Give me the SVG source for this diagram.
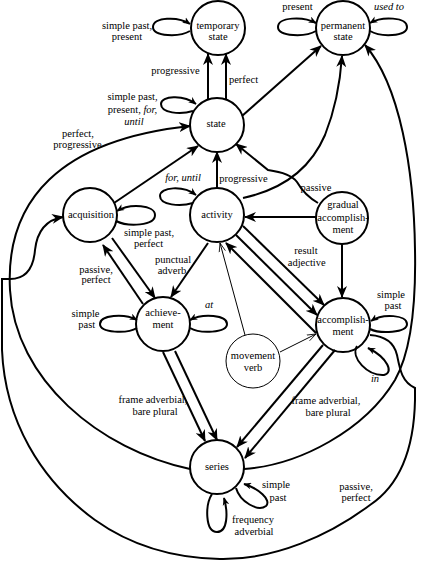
<svg xmlns="http://www.w3.org/2000/svg" width="448" height="561" viewBox="0 0 448 561">
<style>
.n{fill:#fff;stroke:#000;stroke-width:2}
.thin{fill:#fff;stroke:#000;stroke-width:1}
.e{fill:none;stroke:#000;stroke-width:2}
.et{fill:none;stroke:#000;stroke-width:1}
.ar{marker-end:url(#a)}
.sa{marker-end:url(#s)}
.ta{marker-end:url(#t)}
text{font-family:"Liberation Serif","Times New Roman",serif;font-size:10.5px;fill:#000;text-anchor:middle}
.i{font-style:italic}
</style>
<defs>
<marker id="a" viewBox="0 0 12 10" refX="11" refY="5" markerWidth="12" markerHeight="10" markerUnits="userSpaceOnUse" orient="auto"><path d="M0,0 L12,5 L0,10 L3.5,5 z"/></marker>
<marker id="s" viewBox="0 0 12 10" refX="11" refY="5" markerWidth="8" markerHeight="7" markerUnits="userSpaceOnUse" orient="auto"><path d="M0,0 L12,5 L0,10 L3.5,5 z"/></marker>
<marker id="t" viewBox="0 0 12 10" refX="11" refY="5" markerWidth="10" markerHeight="8" markerUnits="userSpaceOnUse" orient="auto"><path d="M0,1 L11,5 L0,9" fill="none" stroke="#000" stroke-width="1"/></marker>
</defs>

<g id="temporary-state"><circle class="n" cx="218" cy="28" r="27"/><text x="218" y="28.5">temporary</text><text x="218" y="40">state</text></g>
<g id="permanent-state"><circle class="n" cx="343" cy="28" r="27"/><text x="343" y="28.5">permanent</text><text x="343" y="40">state</text></g>
<g id="state"><circle class="n" cx="217" cy="125" r="27"/><text x="216" y="127">state</text></g>
<g id="acquisition"><circle class="n" cx="90" cy="215" r="27"/><text x="91" y="217.5">acquisition</text></g>
<g id="activity"><circle class="n" cx="217" cy="215" r="27"/><text x="217" y="217.5">activity</text></g>
<g id="gradual-accomplishment"><circle class="n" cx="342" cy="218" r="26"/><text x="343" y="207.5">gradual</text><text x="343" y="220.5">accomplish-</text><text x="343" y="232.5">ment</text></g>
<g id="achievement"><circle class="n" cx="163" cy="324" r="27"/><text x="163" y="315.5">achieve-</text><text x="163" y="327.5">ment</text></g>
<g id="accomplishment"><circle class="n" cx="343" cy="325" r="27"/><text x="343" y="322.5">accomplish-</text><text x="343" y="334.5">ment</text></g>
<g id="movement-verb"><circle class="thin" cx="253" cy="361" r="27"/><text x="253" y="358.5">movement</text><text x="253" y="370.5">verb</text></g>
<g id="series"><circle class="n" cx="217" cy="467" r="27"/><text x="217" y="469.5">series</text></g>

<g id="connectors">
<!-- self loops -->
<path class="e sa" d="M190,31 C180,37 153,37 153,27 C153,17 178,16 190,24"/>
<path class="e sa" d="M316,31 C306,37 278,37 278,27 C278,17 303,16 316,23"/>
<path class="e sa" d="M370,31 C380,37 407,37 407,27 C407,17 382,16 370,23"/>
<path class="e sa" d="M193,111 C180,115 161,113 161,104 C161,96 183,94 196,104"/>
<path class="e sa" d="M193,203 C180,207 160,205 160,196 C160,187 183,185 196,195"/>
<path class="e sa" d="M116,221 C128,227 155,226 155,215 C155,205 130,203 117,211"/>
<path class="e sa" d="M137,328 C127,334 100,333 100,324 C100,315 124,313 137,320"/>
<path class="e sa" d="M190,328 C200,334 227,333 227,324 C227,315 203,313 190,320"/>
<path class="e sa" d="M370,329 C380,334 407,333 407,324 C407,315 383,313 371,321"/>
<path class="e sa" d="M357,346 C350,358 368,376 384,375 C394,373 388,358 368,348"/>
<path class="e sa" d="M236,488 C240,502 258,512 266,506 C272,500 258,488 244,484"/>
<path class="e sa" d="M212,494 C205,505 205,532 217,532 C228,532 228,512 224,498"/>
<!-- straight edges -->
<path class="e ar" d="M208,100 L208,54"/>
<path class="e ar" d="M226,100 L226,54"/>
<path class="e ar" d="M242,116 L321,46"/>
<path class="e ar" d="M114,203 L198,146"/>
<path class="e ar" d="M217,188 L217,152"/>
<path class="e ar" d="M316,217 L245,217"/>
<path class="e ar" d="M342,244 L342,297"/>
<path class="e ar" d="M243,226 L324,305"/>
<path class="e ar" d="M236,235 L317,315"/>
<path class="e ar" d="M316,333 L226,243"/>
<path class="e ar" d="M112,238 L155,298"/>
<path class="e ar" d="M143,304 L103,245"/>
<path class="e ar" d="M208,243 L171,297"/>
<path class="e ar" d="M163,352 L205,441"/>
<path class="e ar" d="M175,351 L217,440"/>
<path class="e ar" d="M323,345 L237,447"/>
<path class="e ar" d="M335,350 L245,458"/>
<path class="et ta" d="M245,335 L220,243"/>
<path class="et ta" d="M280,352 L316,334"/>
<!-- long curves -->
<path class="e ar" d="M190,469 C100,450 15,380 10,290 C5,200 60,140 190,126"/>
<path class="e ar" d="M370,335 C385,336 394,342 397,355 C400,370 402,382 415,388 L415,400 C414,450 400,485 370,505 C330,535 275,560 220,559 C170,558 130,545 95,520 C40,480 5,420 2,350 L2,279 L10,279 C30,279 34,262 35,250 C37,232 45,220 63,217"/>
<path class="e ar" d="M244,469 C300,465 365,430 395,380 C412,350 416,300 415,250 C414,170 400,85 365,45"/>
<path class="e ar" d="M243,198 C280,190 310,170 325,135 C335,110 340,85 342,56"/>
<path class="e ar" d="M318,203 C306,196 301,189 297,182 C292,175 282,172 268,170 L236,144"/>
</g>

<g id="labels">
<text x="127" y="28.5">simple past,</text><text x="127" y="40">present</text>
<text x="175.5" y="74">progressive</text><text x="243.5" y="82.5">perfect</text>
<text x="297.5" y="10">present</text><text class="i" x="389" y="10">used to</text>
<text x="132.5" y="100">simple past,</text><text x="132.5" y="113">present, <tspan class="i">for,</tspan></text><text class="i" x="134" y="125">until</text>
<text x="78" y="136.5">perfect,</text><text x="77.5" y="147.5">progressive</text>
<text class="i" x="183" y="181">for, until</text>
<text x="243.5" y="181.5">progressive</text>
<text x="316" y="190.5">passive</text>
<text x="149" y="235.5">simple past,</text><text x="148.5" y="246.5">perfect</text>
<text x="96" y="272.5">passive,</text><text x="96" y="282.5">perfect</text>
<text x="173" y="262.5">punctual</text><text x="172" y="273.5">adverb</text>
<text x="306" y="253.5">result</text><text x="306.7" y="265.5">adjective</text>
<text x="85.5" y="316.5">simple</text><text x="86.7" y="327.5">past</text>
<text class="i" x="209" y="307.5">at</text>
<text x="391" y="297.5">simple</text><text x="393" y="308.5">past</text>
<text class="i" x="375" y="381.5">in</text>
<text x="153" y="402.5">frame adverbial,</text><text x="155" y="414.5">bare plural</text>
<text x="326" y="403.5">frame adverbial,</text><text x="328" y="415.5">bare plural</text>
<text x="276" y="487.5">simple</text><text x="278" y="500.5">past</text>
<text x="253" y="522.5">frequency</text><text x="254" y="534.5">adverbial</text>
<text x="356" y="489.5">passive,</text><text x="356" y="500.5">perfect</text>
</g>
</svg>
